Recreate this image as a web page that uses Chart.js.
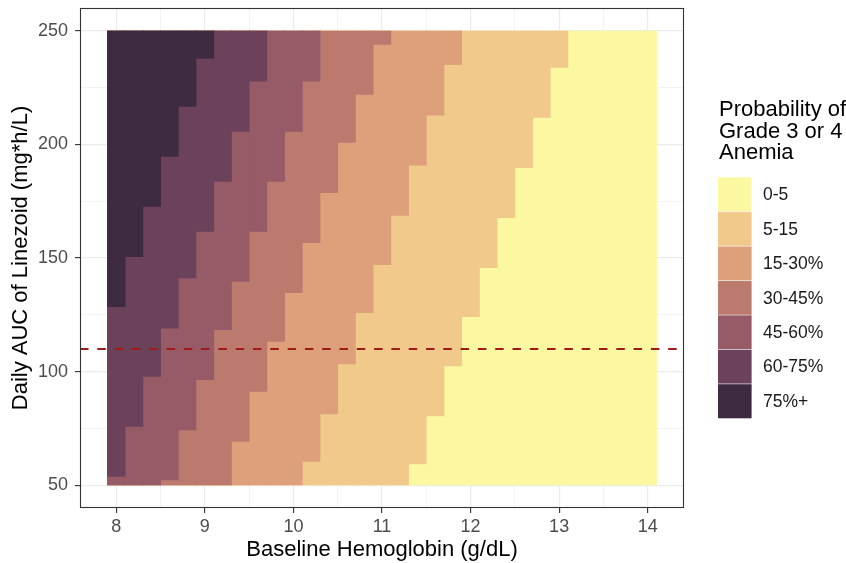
<!DOCTYPE html>
<html>
<head>
<meta charset="utf-8">
<script src="https://cdn.jsdelivr.net/npm/chart.js@4.4.1/dist/chart.umd.min.js"></script>
<style>
  html, body { margin: 0; padding: 0; background: #ffffff; }
  #wrap { width: 846px; height: 563px; }
</style>
</head>
<body>
<div id="wrap"><canvas id="anemiaChart"></canvas></div>
<script>
// Baseline hemoglobin column centres (g/dL); every column is 0.2 wide
const hemoglobin = [8.0, 8.2, 8.4, 8.6, 8.8, 9.0, 9.2, 9.4, 9.6, 9.8,
                    10.0, 10.2, 10.4, 10.6, 10.8, 11.0, 11.2, 11.4, 11.6, 11.8,
                    12.0, 12.2, 12.4, 12.6, 12.8, 13.0, 13.2, 13.4, 13.6, 13.8, 14.0];

// Daily AUC range of the grid and the reference AUC (dashed line)
const aucMin = 50;
const aucMax = 250;
const referenceAuc = 110;

// Daily AUC at which the predicted probability passes each cut-off, per column
// (50 = already past it at the bottom of the grid, 250 = not reached in the grid)
const cut5  = [50, 50, 50, 50, 50, 50, 50, 50, 50, 50,
               50, 50, 50, 50, 50, 50, 50, 59.3, 80.4, 102.4,
               124.0, 145.6, 167.6, 189.6, 211.7, 233.7, 250, 250, 250, 250, 250];
const cut15 = [50, 50, 50, 50, 50, 50, 50, 50, 50, 50,
               50, 60.3, 81.3, 103.3, 125.8, 146.9, 168.6, 190.7, 212.7, 235.0,
               250, 250, 250, 250, 250, 250, 250, 250, 250, 250, 250];
const cut30 = [50, 50, 50, 50, 50, 50, 50, 69.1, 91.1, 113.1,
               134.6, 156.6, 178.6, 200.7, 221.8, 243.8, 250, 250, 250, 250,
               250, 250, 250, 250, 250, 250, 250, 250, 250, 250, 250];
const cut45 = [50, 50, 50, 52.2, 74.2, 96.3, 118.3, 139.6, 161.6, 183.6,
               205.6, 227.7, 250, 250, 250, 250, 250, 250, 250, 250,
               250, 250, 250, 250, 250, 250, 250, 250, 250, 250, 250];
const cut60 = [53.7, 75.7, 97.7, 119.0, 141.1, 161.6, 183.6, 205.6, 227.7, 250,
               250, 250, 250, 250, 250, 250, 250, 250, 250, 250,
               250, 250, 250, 250, 250, 250, 250, 250, 250, 250, 250];
const cut75 = [128.4, 150.4, 172.5, 194.5, 216.5, 237.7, 250, 250, 250, 250,
               250, 250, 250, 250, 250, 250, 250, 250, 250, 250,
               250, 250, 250, 250, 250, 250, 250, 250, 250, 250, 250];

const categories = ['0-5', '5-15', '15-30%', '30-45%', '45-60%', '60-75%', '75%+'];
const palette = ['#FCF8A1', '#F1C98A', '#DDA07A', '#BC7A6F', '#965B67', '#6B4259', '#3E2B41'];

const legendTitle = ['Probability of', 'Grade 3 or 4', 'Anemia'];

const xTicks = [8, 9, 10, 11, 12, 13, 14];
const xMinor = [8.5, 9.5, 10.5, 11.5, 12.5, 13.5];
const yTicks = [50, 100, 150, 200, 250];
const yMinor = [75, 125, 175, 225];

Chart.defaults.font.family = "'Liberation Sans', Arial, Helvetica, sans-serif";

// each category is drawn from its lower cut-off up to the top of the grid;
// the higher categories sit on top, so only the band between cut-offs shows
const lowerCuts = [null, cut5, cut15, cut30, cut45, cut60, cut75];
const bandSets = categories.map((name, k) => ({
  type: 'bar',
  label: name,
  data: hemoglobin.map((hb, i) => ({ x: hb, y: [k === 0 ? aucMin : lowerCuts[k][i], aucMax] })),
  backgroundColor: palette[k],
  borderWidth: 0,
  grouped: false,
  barPercentage: 1.04,
  categoryPercentage: 1,
  order: categories.length + 1 - k
}));

const refLine = {
  type: 'line',
  label: 'reference',
  data: [{ x: 7.59, y: referenceAuc }, { x: 14.41, y: referenceAuc }],
  borderColor: '#A11A1A',
  borderWidth: 2,
  borderDash: [8.5, 8.8],
  pointRadius: 0,
  fill: false,
  order: 0
};

const isIn = (list, v) => list.some(t => Math.abs(t - v) < 1e-9);

const panelAndKey = {
  id: 'panelAndKey',
  afterDraw(chart) {
    const { ctx, chartArea: a } = chart;
    ctx.save();
    ctx.strokeStyle = '#333333';
    ctx.lineWidth = 1.1;
    ctx.strokeRect(a.left + 0.5, a.top + 0.5, a.right - a.left - 1, a.bottom - a.top - 1);

    // legend: title + colour keys
    ctx.fillStyle = '#000000';
    ctx.font = "22px 'Liberation Sans', Arial, sans-serif";
    ctx.textAlign = 'left';
    ctx.textBaseline = 'alphabetic';
    legendTitle.forEach((line, i) => ctx.fillText(line, 719, 116 + i * 21.5));

    const keyX = 718, keyTop = 177.3, keyW = 33.6, keyH = 34.43;
    ctx.font = "17.5px 'Liberation Sans', Arial, sans-serif";
    ctx.textBaseline = 'middle';
    categories.forEach((name, k) => {
      const y = keyTop + k * keyH;
      ctx.fillStyle = palette[k];
      ctx.fillRect(keyX, y, keyW, keyH);
      if (k > 0) {
        ctx.fillStyle = 'rgba(255,255,255,0.55)';
        ctx.fillRect(keyX, y - 0.5, keyW, 1);
      }
      ctx.fillStyle = '#1A1A1A';
      ctx.fillText(name, 763, y + keyH / 2 + 1);
    });
    ctx.restore();
  }
};

new Chart(document.getElementById('anemiaChart'), {
  type: 'bar',
  data: { datasets: [refLine, ...bandSets] },
  options: {
    responsive: true,
    maintainAspectRatio: false,
    animation: false,
    layout: { padding: { top: 8, right: 162, left: 0, bottom: 0 } },
    plugins: { legend: { display: false }, tooltip: { enabled: false } },
    scales: {
      x: {
        type: 'linear',
        min: 7.59,
        max: 14.41,
        offset: false,
        afterBuildTicks: axis => { axis.ticks = [...xTicks, ...xMinor].sort((p, q) => p - q).map(v => ({ value: v })); },
        afterFit: axis => { axis.height = 55; axis.paddingLeft = 0; axis.paddingRight = 0; },
        grid: {
          offset: false,
          color: '#EBEBEB',
          lineWidth: c => isIn(xTicks, c.tick.value) ? 1.2 : 0.6,
          tickColor: c => isIn(xTicks, c.tick.value) ? '#333333' : 'rgba(0,0,0,0)',
          tickLength: 5,
          tickWidth: 1.1
        },
        border: { display: false },
        ticks: {
          autoSkip: false,
          maxRotation: 0,
          padding: 3,
          color: '#4D4D4D',
          font: { size: 18 },
          callback: v => isIn(xTicks, v) ? String(v) : ''
        },
        title: {
          display: true,
          text: 'Baseline Hemoglobin (g/dL)',
          color: '#000000',
          font: { size: 22 },
          padding: { top: 0, bottom: 0 }
        }
      },
      y: {
        type: 'linear',
        min: 40,
        max: 260,
        beginAtZero: false,
        afterBuildTicks: axis => { axis.ticks = [...yTicks, ...yMinor].sort((p, q) => p - q).map(v => ({ value: v })); },
        afterFit: axis => { axis.width = 80; axis.paddingTop = 0; axis.paddingBottom = 0; },
        grid: {
          color: '#EBEBEB',
          lineWidth: c => isIn(yTicks, c.tick.value) ? 1.2 : 0.6,
          tickColor: c => isIn(yTicks, c.tick.value) ? '#333333' : 'rgba(0,0,0,0)',
          tickLength: 5,
          tickWidth: 1.1
        },
        border: { display: false },
        ticks: {
          autoSkip: false,
          padding: 7,
          color: '#4D4D4D',
          font: { size: 18 },
          callback: v => isIn(yTicks, v) ? String(v) : ''
        },
        title: {
          display: true,
          text: 'Daily AUC of Linezoid (mg*h/L)',
          color: '#000000',
          font: { size: 22 },
          padding: { top: 8, bottom: 0 }
        }
      }
    }
  },
  plugins: [panelAndKey]
});
</script>
</body>
</html>
